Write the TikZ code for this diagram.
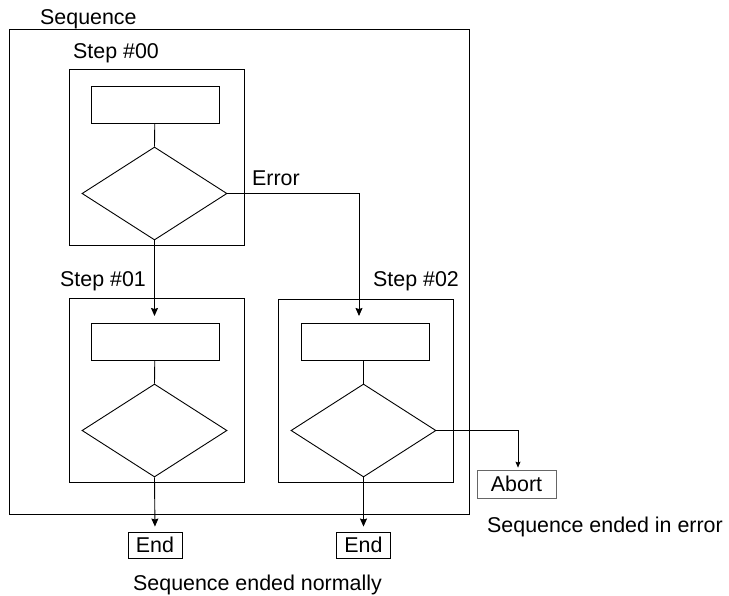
\documentclass[tikz,border=0pt]{standalone}
\usepackage{fontspec}
\setmainfont{Liberation Sans}
\usetikzlibrary{shapes.geometric,arrows.meta}
\begin{document}
\begin{tikzpicture}[x=1pt,y=-1pt,
  every node/.style={font=\fontsize{21.4}{24}\selectfont, inner sep=0pt},
  boxline/.style={draw, line width=0.9pt},
  stepbox/.style={boxline, minimum width=175pt},
  actbox/.style={boxline, minimum width=128pt, minimum height=37pt},
  decide/.style={boxline, diamond, minimum width=145pt, minimum height=93pt, aspect=1.56},
  endbox/.style={draw, line width=0.9pt, minimum width=54pt, minimum height=26pt},
  lbl/.style={anchor=base west},
  link/.style={line width=0.9pt},
  arr/.style={link, -{Stealth[length=8pt,width=7pt,inset=1pt]}},
  thinarr/.style={line width=0.6pt, -{Stealth[length=6pt,width=5pt,inset=1pt]}}
]
\useasboundingbox (0,0) rectangle (729,596);
% outer sequence
\node[boxline, minimum width=460pt, minimum height=485pt] (seq) at (239,271.5) {};
\node[lbl] (seqlbl) at (40,25) {Sequence};
% step 00
\node[stepbox, minimum height=176pt] (s0) at (156.5,157) {};
\node[lbl] (s0lbl) at (73,59) {Step \#00};
\node[actbox] (r0) at (155,104.5) {};
\node[decide] (d0) at (154.5,193.5) {};
% step 01
\node[stepbox, minimum height=184pt] (s1) at (156.5,390) {};
\node[lbl] (s1lbl) at (60,287) {Step \#01};
\node[actbox] (r1) at (155,341.5) {};
\node[decide] (d1) at (154.5,430.5) {};
% step 02
\node[stepbox, minimum height=183pt] (s2) at (365.5,390.5) {};
\node[lbl] (s2lbl) at (373,287) {Step \#02};
\node[actbox] (r2) at (365,341.5) {};
\node[decide] (d2) at (363.5,430.5) {};
% ends
\node[endbox] (e1) at (155,545) {End};
\node[endbox] (e2) at (363.5,545) {End};
\node[draw=black!60, line width=0.8pt, minimum width=79pt, minimum height=28pt] (ab) at (516.5,484) {Abort};
\node[lbl] (normal) at (133,590) {Sequence ended normally};
\node[lbl] (errtxt) at (487,532) {Sequence ended in error};
\node[lbl] (errlbl) at (252,186) {Error};
% connectors
\coordinate (a1) at (154.5,316);
\coordinate (a2) at (359,316);
\draw[link] (r0) -- (d0.north);
\draw[link] (r1) -- (d1.north);
\draw[link] (r2.south -| d2.north) -- (d2.north);
\draw[arr] (d0.south) -- (a1);
\draw[arr] (d0.east) -| (a2);
\draw[arr, shorten >=5pt] (d1.south) -- (e1.north);
\draw[arr, shorten >=5pt] (d2.south) -- (e2.north);
\draw[thinarr, shorten >=2pt] (d2.east) -| ([xshift=1.5pt]ab.north);
\end{tikzpicture}
\end{document}
